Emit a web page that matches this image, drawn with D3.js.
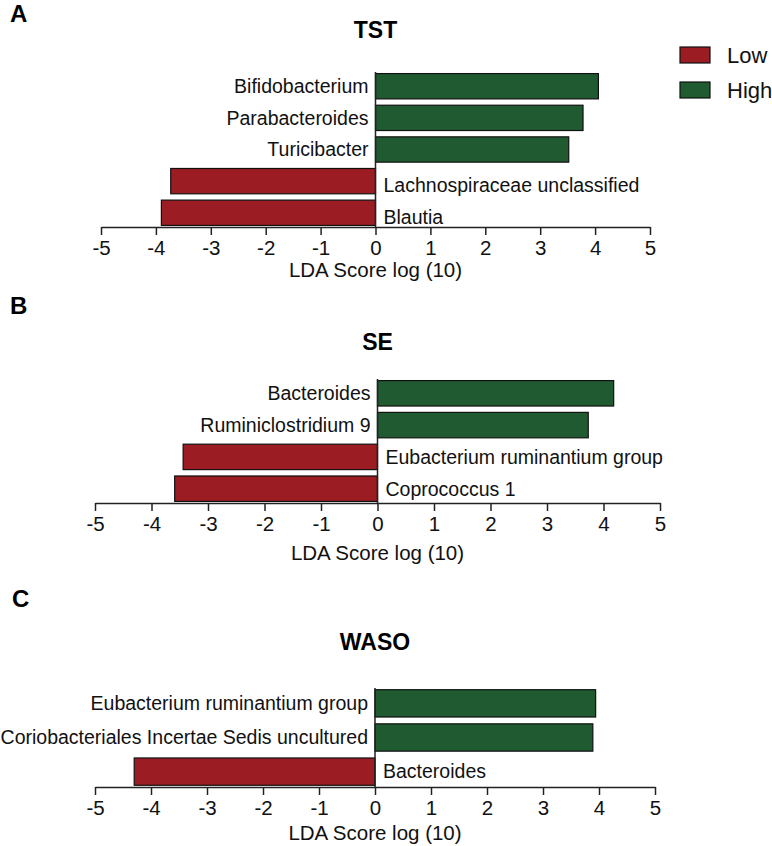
<!DOCTYPE html>
<html>
<head>
<meta charset="utf-8">
<script src="https://cdn.jsdelivr.net/npm/d3@7"></script>
<style>
  body { margin: 0; background: #fff; }
  svg { font-family: "Liberation Sans", Arial, Helvetica, sans-serif; }
</style>
</head>
<body>
<div id="chart"></div>
<script>
// data per panel (LDA score log10, negative = Low, positive = High)
var tstTaxa = ["Bifidobacterium", "Parabacteroides", "Turicibacter", "Lachnospiraceae unclassified", "Blautia"];
var tstScores = [4.06, 3.78, 3.52, -3.73, -3.90];

var seTaxa = ["Bacteroides", "Ruminiclostridium 9", "Eubacterium ruminantium group", "Coprococcus 1"];
var seScores = [4.18, 3.73, -3.44, -3.59];

var wasoTaxa = ["Eubacterium ruminantium group", "Coriobacteriales Incertae Sedis uncultured", "Bacteroides"];
var wasoScores = [3.94, 3.89, -4.30];

var xTicks = [-5, -4, -3, -2, -1, 0, 1, 2, 3, 4, 5];
var groups = ["Low", "High"];

var color = d3.scaleOrdinal()
  .domain(groups)
  .range(["#9b1c22", "#1f5a30"]);

var W = 772, H = 846;

var svg = d3.select("#chart")
  .append("svg")
    .attr("width", W)
    .attr("height", H);

// layout of each panel
var panels = [
  {letter: "A", title: "TST", taxa: tstTaxa, scores: tstScores,
   x0: 101, x1: 650, top: 72, axisY: 227, letterY: 22, letterX: 10, titleY: 38, axisTitleY: 277, negShift: 4},
  {letter: "B", title: "SE", taxa: seTaxa, scores: seScores,
   x0: 95, x1: 660, top: 379, axisY: 503, letterY: 314, letterX: 10, titleY: 350, axisTitleY: 560, negShift: 0},
  {letter: "C", title: "WASO", taxa: wasoTaxa, scores: wasoScores,
   x0: 95, x1: 655, top: 688, axisY: 787, letterY: 607, letterX: 12, titleY: 650, axisTitleY: 840, negShift: 0}
];

panels.forEach(function(p) {

  var rows = p.taxa.map(function(t, i) { return {name: t, value: p.scores[i]}; });

  var x = d3.scaleLinear()
    .domain([-5, 5])
    .range([p.x0, p.x1]);

  var y = d3.scaleBand()
    .domain(p.taxa)
    .range([p.top, p.axisY])
    .paddingInner(0.2)
    .paddingOuter(0.05);

  var g = svg.append("g");

  // panel letter
  g.append("text")
    .attr("x", p.letterX)
    .attr("y", p.letterY)
    .style("font-size", "24px")
    .style("font-weight", "bold")
    .text(p.letter);

  // title
  g.append("text")
    .attr("x", x(0))
    .attr("y", p.titleY)
    .attr("text-anchor", "middle")
    .style("font-size", "23px")
    .style("font-weight", "bold")
    .text(p.title);

  // bars
  g.selectAll("rect.bar")
    .data(rows)
    .enter()
    .append("rect")
      .attr("class", "bar")
      .attr("x", function(d) { return x(Math.min(0, d.value)); })
      .attr("y", function(d) { return y(d.name); })
      .attr("width", function(d) { return Math.abs(x(d.value) - x(0)); })
      .attr("height", y.bandwidth())
      .style("fill", function(d) { return color(d.value < 0 ? "Low" : "High"); })
      .style("stroke", "#111")
      .style("stroke-width", 1.2);

  // labels on the opposite side of zero
  g.selectAll("text.lab")
    .data(rows)
    .enter()
    .append("text")
      .attr("class", "lab")
      .attr("x", function(d) { return d.value < 0 ? x(0) + 8 : x(0) - 7; })
      .attr("y", function(d) { return y(d.name) + y.bandwidth() / 2 + (d.value < 0 ? p.negShift : 0); })
      .attr("dy", "0.35em")
      .attr("text-anchor", function(d) { return d.value < 0 ? "start" : "end"; })
      .style("font-size", "19.5px")
      .style("fill", "#111")
      .text(function(d) { return d.name; });

  // zero line
  g.append("line")
    .attr("x1", x(0)).attr("x2", x(0))
    .attr("y1", p.top).attr("y2", p.axisY)
    .style("stroke", "#222")
    .style("stroke-width", 1.5);

  // x axis
  var axis = g.append("g")
    .attr("transform", "translate(0," + p.axisY + ")")
    .call(d3.axisBottom(x).tickValues(xTicks).tickSize(8).tickSizeOuter(0).tickPadding(5)
      .tickFormat(function(d) { return d < 0 ? "-" + Math.abs(d) : d; }));
  axis.select(".domain").style("stroke", "#222").style("stroke-width", 1.5);
  axis.selectAll(".tick line").style("stroke", "#222").style("stroke-width", 1.5);
  axis.selectAll(".tick text")
    .style("font-size", "20.5px")
    .style("font-family", "'Liberation Sans', Arial, sans-serif")
    .style("fill", "#111");

  // axis title
  g.append("text")
    .attr("x", x(0))
    .attr("y", p.axisTitleY)
    .attr("text-anchor", "middle")
    .style("font-size", "20.5px")
    .style("fill", "#111")
    .text("LDA Score log (10)");
});

// legend
var legend = svg.selectAll("g.legend")
  .data(groups)
  .enter()
  .append("g")
    .attr("class", "legend")
    .attr("transform", function(d, i) { return "translate(680," + (47 + i * 35) + ")"; });

legend.append("rect")
  .attr("width", 30)
  .attr("height", 16)
  .style("fill", function(d) { return color(d); })
  .style("stroke", "#111")
  .style("stroke-width", 1.2);

legend.append("text")
  .attr("x", 47)
  .attr("y", 8)
  .attr("dy", "0.35em")
  .style("font-size", "22px")
  .style("fill", "#111")
  .text(function(d) { return d; });
</script>
</body>
</html>
